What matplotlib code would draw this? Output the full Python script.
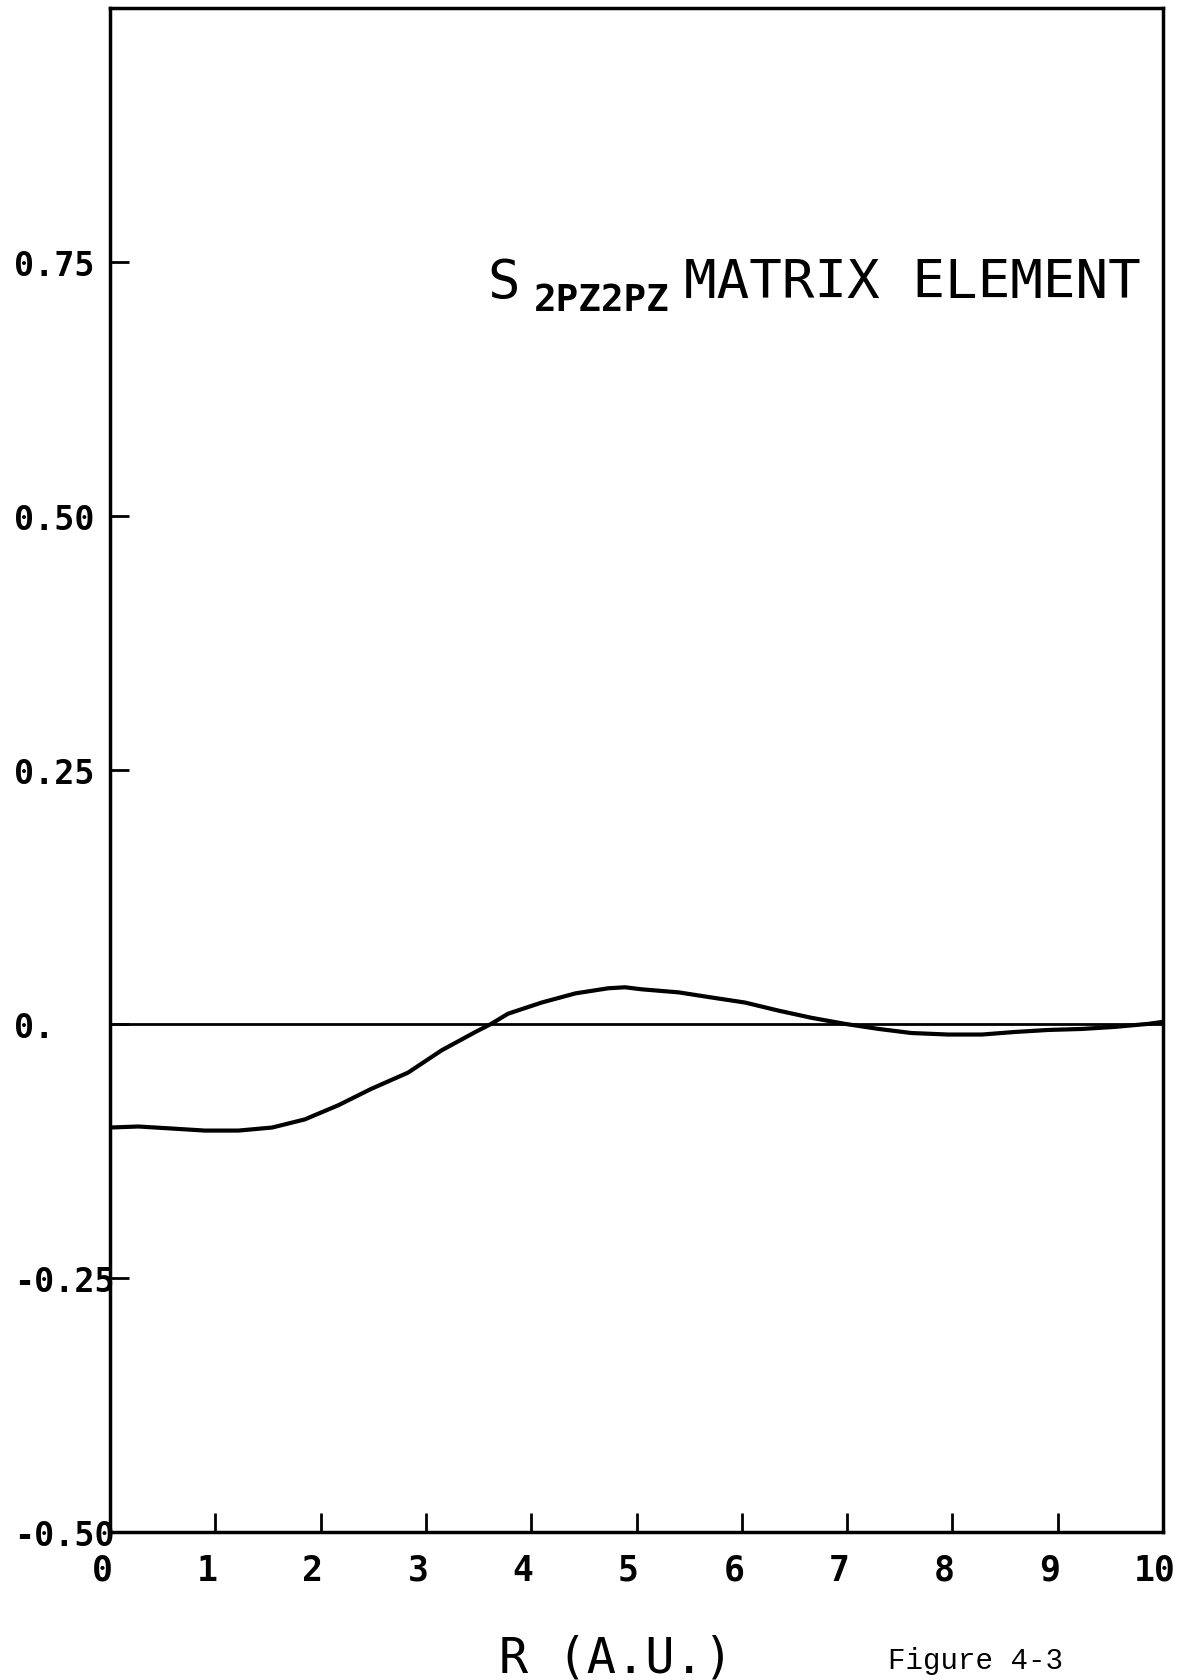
import numpy as np
import matplotlib
matplotlib.use('Agg')
import matplotlib.pyplot as plt
import matplotlib.transforms as mtransforms

# S(2pz,2pz) matrix element vs R
r_au = [0.0, 0.27, 0.59, 0.90, 1.22, 1.54, 1.85, 2.17, 2.48, 2.83, 3.15, 3.47,
        3.62, 3.78, 4.10, 4.42, 4.73, 4.89, 5.05, 5.40, 5.71, 6.03, 6.35, 6.66,
        6.98, 7.30, 7.61, 7.96, 8.28, 8.59, 8.91, 9.23, 9.54, 9.86, 10.0]
s_val = [-0.102, -0.101, -0.103, -0.105, -0.105, -0.102, -0.094, -0.080, -0.064,
         -0.048, -0.026, -0.008, 0.0, 0.010, 0.021, 0.030, 0.035, 0.036, 0.034,
         0.031, 0.026, 0.021, 0.013, 0.006, 0.0, -0.005, -0.009, -0.0105, -0.0105,
         -0.008, -0.006, -0.005, -0.003, 0.0, 0.002]

yticks = [-0.5, -0.25, 0.0, 0.25, 0.5, 0.75]
ytick_labels = ['-0.50', '-0.25', '0.', '0.25', '0.50', '0.75']
xticks = list(range(0, 11))
xtick_labels = [str(i) for i in xticks]

W, H = 1192, 1681
fig = plt.figure(figsize=(W / 100, H / 100), dpi=100)
ax = fig.add_axes([110 / W, 1 - 1533 / H, 1053 / W, 1524.4 / H])

ax.plot(r_au, s_val, color='black', lw=3.0, solid_capstyle='round',
        solid_joinstyle='round')
ax.axhline(0, color='black', lw=2.0)

ax.set_xlim(0, 10)
ax.set_ylim(-0.5, 1.0)

for sp in ax.spines.values():
    sp.set_linewidth(2.5)

mono = 'DejaVu Sans Mono'
ax.set_xticks(xticks)
ax.set_xticklabels(xtick_labels, family=mono, weight='bold', fontsize=25)
ax.set_yticks(yticks)
ax.set_yticklabels(ytick_labels, family=mono, weight='bold', fontsize=24, ha='left')
ax.tick_params(axis='x', direction='in', length=14, width=2, pad=15)
ax.tick_params(axis='y', direction='in', length=14, width=2, pad=69)

# plotter put the x numbers a little left of their ticks
shift = mtransforms.ScaledTranslation(-0.08, 0, fig.dpi_scale_trans)
for lab in ax.get_xticklabels():
    lab.set_transform(lab.get_transform() + shift)

# title: S with subscript
fig.text(487 / W, 1 - 298 / H, 'S', family=mono, fontsize=39, va='baseline', ha='left')
fig.text(534 / W, 1 - 311 / H, '2PZ2PZ', family=mono, weight='bold', fontsize=27,
         va='baseline', ha='left')
fig.text(684 / W, 1 - 298 / H, 'MATRIX ELEMENT', family=mono, fontsize=39,
         va='baseline', ha='left')

fig.text(616 / W, 1 - 1673 / H, 'R (A.U.)', family=mono, fontsize=35,
         va='baseline', ha='center')
fig.text(888 / W, 1 - 1669 / H, 'Figure 4-3', family='Liberation Mono', fontsize=21,
         va='baseline', ha='left')

fig.savefig('out.png', dpi=100)
